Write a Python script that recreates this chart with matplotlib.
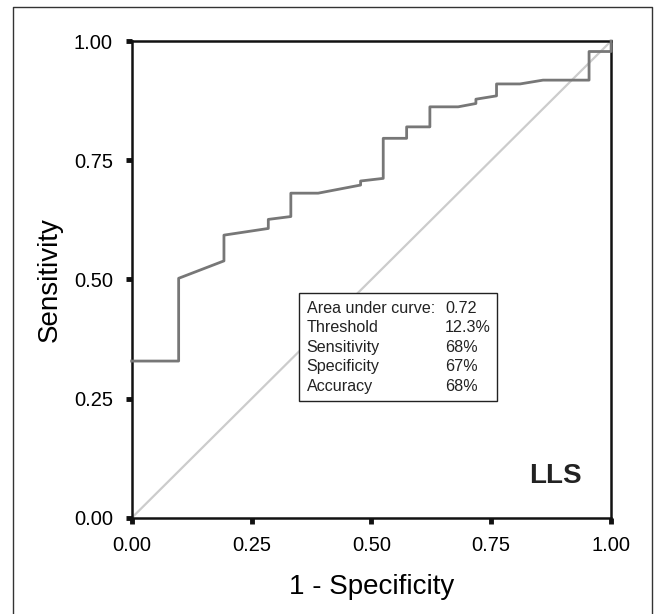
import matplotlib
matplotlib.use('Agg')
import matplotlib.pyplot as plt
from matplotlib.lines import Line2D

plt.rcParams['font.family'] = ['Liberation Sans', 'DejaVu Sans']

# ROC curve points (1 - specificity, sensitivity)
fpr = [0.0, 0.098, 0.098, 0.1925, 0.1925, 0.285, 0.285, 0.332, 0.332, 0.389,
       0.4775, 0.4775, 0.5247, 0.5247, 0.5735, 0.5735, 0.622, 0.622, 0.681,
       0.718, 0.718, 0.761, 0.761, 0.81, 0.858, 0.954, 0.954, 1.0, 1.0]
tpr = [0.329, 0.329, 0.5025, 0.539, 0.593, 0.607, 0.626, 0.632, 0.681, 0.681,
       0.698, 0.7065, 0.712, 0.796, 0.796, 0.820, 0.820, 0.862, 0.862,
       0.869, 0.878, 0.885, 0.910, 0.910, 0.918, 0.918, 0.978, 0.978, 1.0]

ticks = [0.0, 0.25, 0.5, 0.75, 1.0]
tick_labels = ['0.00', '0.25', '0.50', '0.75', '1.00']

stat_names = ['Area under curve:', 'Threshold', 'Sensitivity', 'Specificity', 'Accuracy']
stat_values = ['0.72', '12.3%', '68%', '67%', '68%']

fig = plt.figure(figsize=(6.55, 6.14), dpi=100)
ax = fig.add_axes([0.201, 0.1564, 0.732, 0.7768])

ax.plot([0, 1], [0, 1], color='#cccccc', lw=1.6, zorder=2)
ax.plot(fpr, tpr, color='#777777', lw=2.0, zorder=3, clip_on=False)

ax.set_xlim(0, 1)
ax.set_ylim(0, 1)
ax.set_xticks(ticks)
ax.set_xticklabels(tick_labels)
ax.set_yticks(ticks)
ax.set_yticklabels(tick_labels)
ax.tick_params(direction='out', length=4, width=3.5, labelsize=14.5, color='#111111')
ax.tick_params(axis='x', pad=9)
ax.tick_params(axis='y', pad=9.5)

for s in ax.spines.values():
    s.set_linewidth(1.8)
    s.set_color('#111111')

ax.set_xlabel('1 - Specificity', fontsize=20, labelpad=14)
ax.set_ylabel('Sensitivity', fontsize=20, labelpad=8)

# statistics box
box_x0, box_x1, box_y0, box_y1 = 0.35, 0.761, 0.245, 0.472
ax.add_patch(plt.Rectangle((box_x0, box_y0), box_x1 - box_x0, box_y1 - box_y0,
                           fill=True, facecolor='white', edgecolor='#222222',
                           lw=1.0, zorder=4))
line_step = 0.041
for i, (n, v) in enumerate(zip(stat_names, stat_values)):
    yy = 0.440 - i * line_step
    ax.text(0.365, yy, n, fontsize=11.6, va='center', ha='left', zorder=5, color='#222222')
    ax.text(0.654, yy, v, fontsize=11.6, va='center', ha='left', zorder=5, color='#222222')

ax.text(0.883, 0.088, 'LLS', fontsize=20, fontweight='bold', ha='center', va='center',
        color='#222222')

# outer frame (open at the bottom)
fig.add_artist(Line2D([13 / 655, 13 / 655, 652 / 655, 652 / 655],
                      [0, 1 - 7 / 614, 1 - 7 / 614, 0],
                      transform=fig.transFigure, color='#333333', lw=1.0))

fig.savefig('out.png', dpi=100)
